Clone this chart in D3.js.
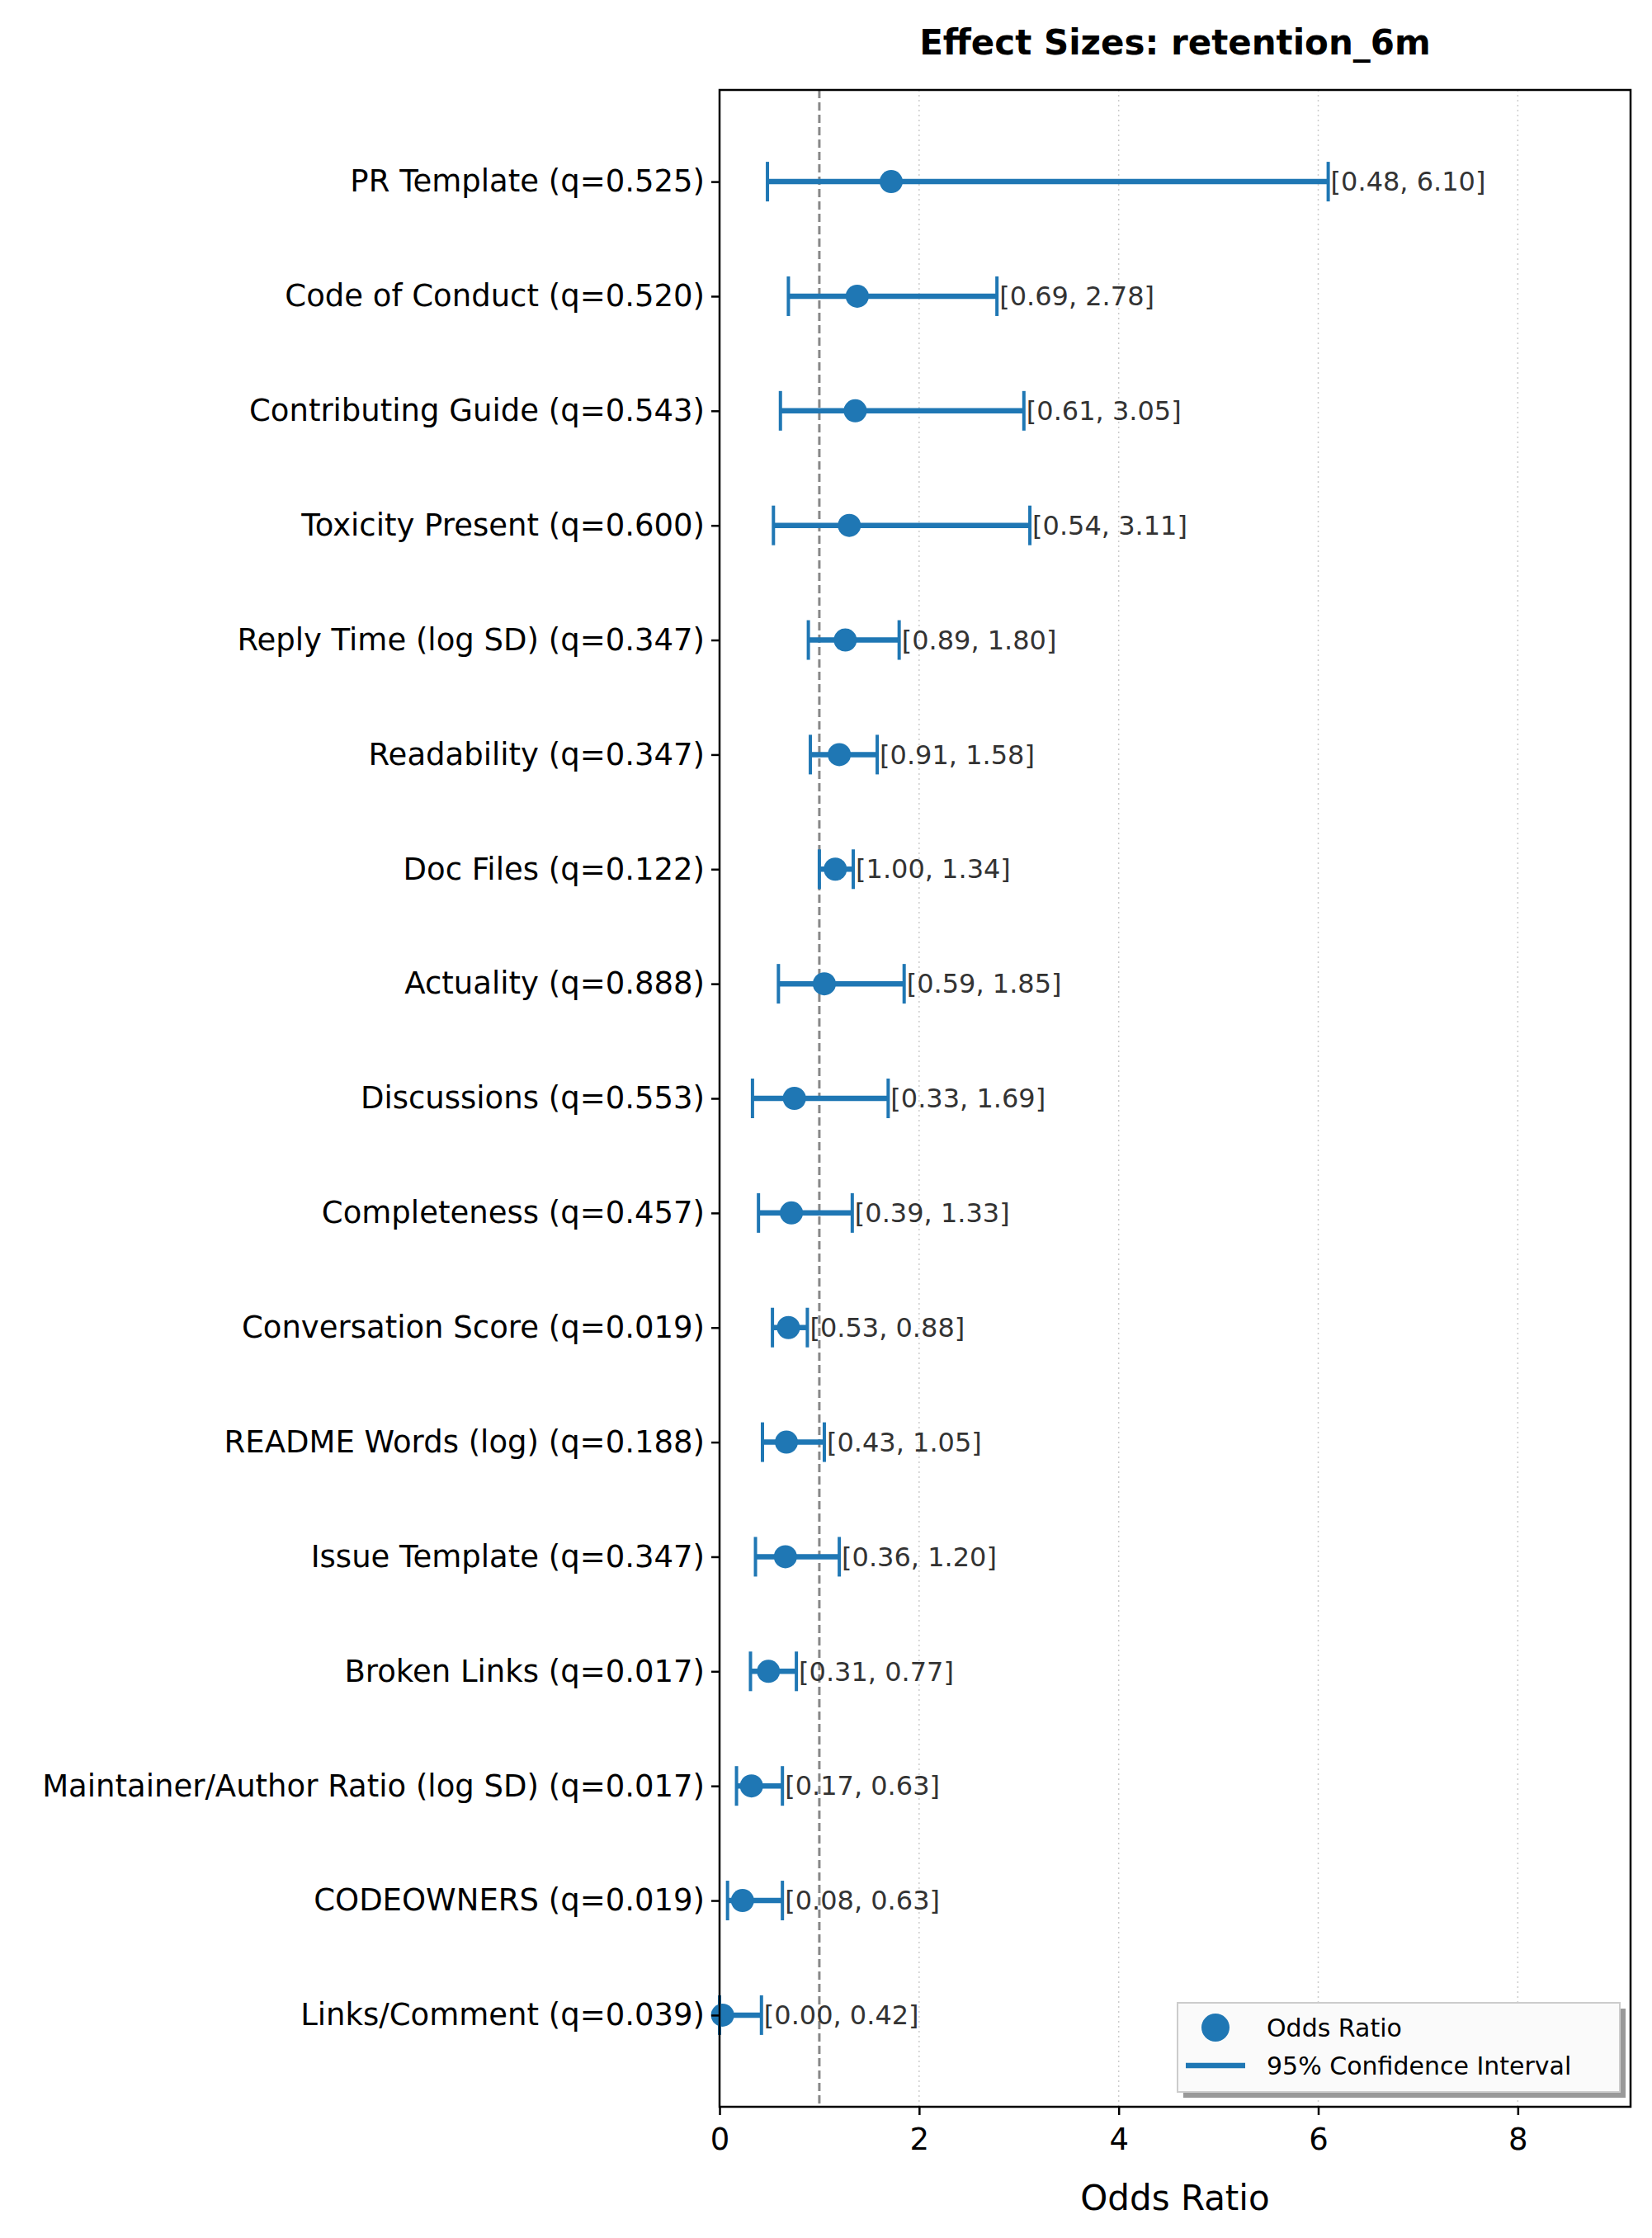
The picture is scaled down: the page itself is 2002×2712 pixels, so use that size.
<!DOCTYPE html>
<html><head><meta charset="utf-8">
<script src="https://cdn.jsdelivr.net/npm/d3@7"></script>
<style>body{margin:0;background:#fff}text{font-family:"DejaVu Sans",sans-serif}</style>
</head><body><div id="chart"></div>
<script>
const labels = ["PR Template (q=0.525)","Code of Conduct (q=0.520)","Contributing Guide (q=0.543)","Toxicity Present (q=0.600)","Reply Time (log SD) (q=0.347)","Readability (q=0.347)","Doc Files (q=0.122)","Actuality (q=0.888)","Discussions (q=0.553)","Completeness (q=0.457)","Conversation Score (q=0.019)","README Words (log) (q=0.188)","Issue Template (q=0.347)","Broken Links (q=0.017)","Maintainer/Author Ratio (log SD) (q=0.017)","CODEOWNERS (q=0.019)","Links/Comment (q=0.039)"];
const oddsRatio = [1.72,1.38,1.36,1.30,1.26,1.20,1.16,1.05,0.75,0.72,0.69,0.67,0.66,0.49,0.32,0.23,0.03];
const ciLow = [0.48,0.69,0.61,0.54,0.89,0.91,1.00,0.59,0.33,0.39,0.53,0.43,0.36,0.31,0.17,0.08,0.00];
const ciHigh = [6.10,2.78,3.05,3.11,1.80,1.58,1.34,1.85,1.69,1.33,0.88,1.05,1.20,0.77,0.63,0.63,0.42];
const xTicks = [0,2,4,6,8];

const W = 2002, H = 2712, blue = "#1f77b4";
const m = {left: 872, right: 1976, top: 109, bottom: 2553};
const svg = d3.select("#chart").append("svg").attr("width", W).attr("height", H);
const x = d3.scaleLinear().domain([0, 9.13]).range([m.left, m.right]);
const y = d3.scalePoint().domain(labels).range([m.top, m.bottom]).padding(0.8);

// grid
svg.selectAll("line.grid").data(xTicks.slice(1)).enter().append("line")
  .attr("x1", d => x(d)).attr("x2", d => x(d)).attr("y1", m.top).attr("y2", m.bottom)
  .attr("stroke", "#ccc").attr("stroke-width", 1.5).attr("stroke-dasharray", "2,4");
// reference line
svg.append("line").attr("x1", x(1)).attr("x2", x(1)).attr("y1", m.top).attr("y2", m.bottom)
  .attr("stroke", "#888").attr("stroke-width", 3).attr("stroke-dasharray", "10,5");

const rows = labels.map((l, i) => ({l, or: oddsRatio[i], lo: ciLow[i], hi: ciHigh[i]}));
const g = svg.append("g");
rows.forEach(r => {
  const yy = y(r.l);
  g.append("line").attr("x1", x(r.lo)).attr("x2", x(r.hi)).attr("y1", yy).attr("y2", yy)
    .attr("stroke", blue).attr("stroke-width", 6.5);
  [r.lo, r.hi].forEach(v => g.append("line").attr("x1", x(v)).attr("x2", x(v))
    .attr("y1", yy - 24).attr("y2", yy + 24).attr("stroke", blue).attr("stroke-width", 4));
  g.append("circle").attr("cx", x(r.or)).attr("cy", yy).attr("r", 14).attr("fill", blue);
  g.append("text").attr("x", x(r.hi) + 3).attr("y", yy).attr("dy", "0.35em")
    .attr("font-size", 32).attr("fill", "#333").text(`[${r.lo.toFixed(2)}, ${r.hi.toFixed(2)}]`);
});

// frame
svg.append("rect").attr("x", m.left).attr("y", m.top).attr("width", m.right - m.left)
  .attr("height", m.bottom - m.top).attr("fill", "none").attr("stroke", "#000").attr("stroke-width", 2.5);

// axes
const xa = svg.append("g").attr("transform", `translate(0,${m.bottom})`)
  .call(d3.axisBottom(x).tickValues(xTicks).tickFormat(d3.format("d")).tickSize(10).tickSizeOuter(0));
xa.select(".domain").remove();
xa.selectAll("line").attr("stroke-width", 2.5);
xa.selectAll("text").attr("font-size", 37).attr("dy", "1.05em").attr("font-family", "DejaVu Sans");
const ya = svg.append("g").attr("transform", `translate(${m.left},0)`)
  .call(d3.axisLeft(y).tickSize(10).tickPadding(8));
ya.select(".domain").remove();
ya.selectAll("line").attr("stroke-width", 2.5);
ya.selectAll("text").attr("font-size", 37).attr("font-family", "DejaVu Sans");

svg.append("text").attr("x", (m.left + m.right) / 2).attr("y", 2678).attr("text-anchor", "middle")
  .attr("font-size", 42).text("Odds Ratio");
svg.append("text").attr("x", (m.left + m.right) / 2).attr("y", 66).attr("text-anchor", "middle")
  .attr("font-size", 42).attr("font-weight", "bold").text("Effect Sizes: retention_6m");

// legend
const lg = svg.append("g").attr("transform", "translate(1427,2427)");
lg.append("rect").attr("x", 7).attr("y", 7).attr("width", 536).attr("height", 108).attr("fill", "#999");
lg.append("rect").attr("width", 536).attr("height", 108).attr("fill", "#fafafa").attr("stroke", "#ccc").attr("stroke-width", 2);
lg.append("circle").attr("cx", 46).attr("cy", 30).attr("r", 17).attr("fill", blue);
lg.append("line").attr("x1", 10).attr("x2", 82).attr("y1", 76).attr("y2", 76).attr("stroke", blue).attr("stroke-width", 6.5);
lg.append("text").attr("x", 108).attr("y", 30).attr("dy", "0.35em").attr("font-size", 30).text("Odds Ratio");
lg.append("text").attr("x", 108).attr("y", 76).attr("dy", "0.35em").attr("font-size", 30).text("95% Confidence Interval");
</script></body></html>
